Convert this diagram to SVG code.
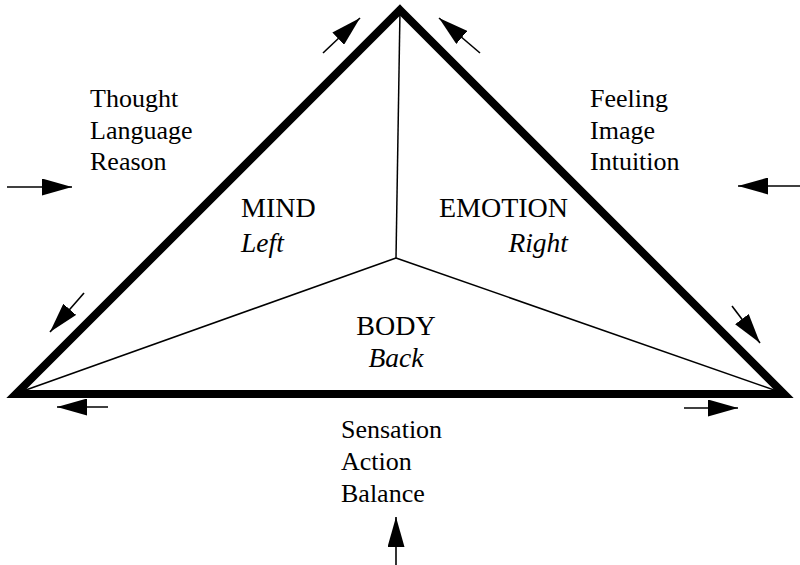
<svg xmlns="http://www.w3.org/2000/svg" width="800" height="565" viewBox="0 0 800 565">
<defs>
<marker id="ah" viewBox="0 0 30 17" refX="30" refY="8.5" markerWidth="30" markerHeight="17" markerUnits="userSpaceOnUse" orient="auto">
<path d="M0,0 L30,8.5 L0,17 Z" fill="#000"/>
</marker>
</defs>
<rect width="800" height="565" fill="#fff"/>
<g id="dividers" stroke="#000" stroke-width="1.5" fill="none">
<line x1="400" y1="10" x2="396" y2="258"/>
<line x1="396" y1="258" x2="16" y2="393.5"/>
<line x1="396" y1="258" x2="784" y2="393.5"/>
</g>
<g id="triangle">
<polygon points="400,10 784,394 16,394" fill="none" stroke="#000" stroke-width="8" stroke-linejoin="miter" stroke-miterlimit="10"/>
</g>
<g id="mind">
<text style="font-family:'Liberation Serif',serif;font-size:28px" x="241" y="217">MIND</text>
<text style="font-family:'Liberation Serif',serif;font-size:27.5px;font-style:italic" x="241" y="252">Left</text>
</g>
<g id="emotion">
<text style="font-family:'Liberation Serif',serif;font-size:28px" x="568" y="217" text-anchor="end">EMOTION</text>
<text style="font-family:'Liberation Serif',serif;font-size:27.5px;font-style:italic" x="568" y="252" text-anchor="end">Right</text>
</g>
<g id="body">
<text style="font-family:'Liberation Serif',serif;font-size:28px" x="396" y="335" text-anchor="middle">BODY</text>
<text style="font-family:'Liberation Serif',serif;font-size:27.5px;font-style:italic" x="396" y="367" text-anchor="middle">Back</text>
</g>
<g id="mind-labels">
<text style="font-family:'Liberation Serif',serif;font-size:26px" x="90" y="107">Thought</text>
<text style="font-family:'Liberation Serif',serif;font-size:26px" x="90" y="138.5">Language</text>
<text style="font-family:'Liberation Serif',serif;font-size:26px" x="90" y="170">Reason</text>
</g>
<g id="emotion-labels">
<text style="font-family:'Liberation Serif',serif;font-size:26px" x="590" y="107">Feeling</text>
<text style="font-family:'Liberation Serif',serif;font-size:26px" x="590" y="138.5">Image</text>
<text style="font-family:'Liberation Serif',serif;font-size:26px" x="590" y="170">Intuition</text>
</g>
<g id="body-labels">
<text style="font-family:'Liberation Serif',serif;font-size:26px" x="341" y="438">Sensation</text>
<text style="font-family:'Liberation Serif',serif;font-size:26px" x="341" y="470">Action</text>
<text style="font-family:'Liberation Serif',serif;font-size:26px" x="341" y="502">Balance</text>
</g>
<g id="connectors" stroke="#000" stroke-width="1.6" fill="none" marker-end="url(#ah)">
<line x1="323" y1="53" x2="360" y2="18"/>
<line x1="480" y1="53" x2="439" y2="18"/>
<line x1="7" y1="187" x2="72" y2="187"/>
<line x1="800" y1="186" x2="738" y2="186"/>
<line x1="84" y1="293" x2="50" y2="332"/>
<line x1="732" y1="306" x2="760" y2="343"/>
<line x1="108" y1="407" x2="57" y2="407"/>
<line x1="684" y1="408" x2="738" y2="408"/>
<line x1="396" y1="565" x2="396" y2="517"/>
</g>
</svg>
